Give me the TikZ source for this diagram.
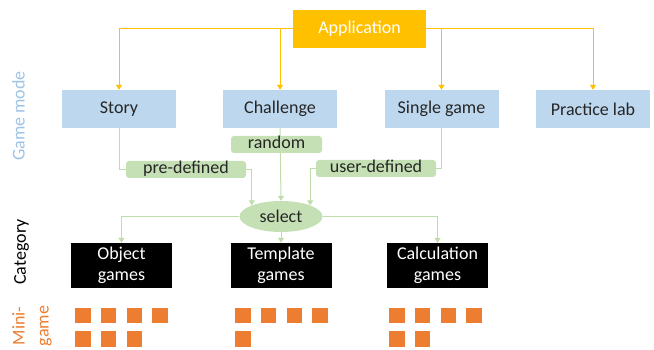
\documentclass[tikz,border=0pt]{standalone}
\usepackage{fontspec}
\setmainfont{Carlito}
\usepackage{tikz}
\usetikzlibrary{shapes.geometric}
\usetikzlibrary{arrows.meta}

\definecolor{appyellow}{HTML}{FFC000}
\definecolor{modeblue}{HTML}{BDD7EE}
\definecolor{taggreen}{HTML}{C5E0B4}
\definecolor{linegreen}{HTML}{BFDDAB}
\definecolor{gameorange}{HTML}{ED7D31}
\definecolor{titleblue}{HTML}{9DC3E6}

\begin{document}
\begin{tikzpicture}[x=1pt,y=-1pt,
       every node/.style={font=\fontsize{18}{21}\selectfont},
       modebox/.style={fill=modeblue,text=black!85,minimum width=114pt,minimum height=38pt,inner sep=0pt},
       catbox/.style={fill=black,text=white,minimum width=101pt,minimum height=45pt,inner sep=0pt,align=center},
       tagbox/.style={fill=taggreen,text=black!85,rounded corners=3pt,minimum height=17pt,inner sep=0pt,text height=12pt,text depth=4pt},
       yline/.style={draw=appyellow,line width=1pt,-{Triangle[width=6pt,length=5pt]}},
       gedge/.style={draw=linegreen,line width=1pt},
       gline/.style={gedge,-{Triangle[width=6pt,length=5pt]}},
       minigame/.style={fill=gameorange,minimum size=15.5pt,inner sep=0pt}]
       
       \useasboundingbox (0,0) rectangle (654,350);
       
       %模式
       \node[fill=appyellow,text=white,minimum width=133pt,minimum height=38pt,inner sep=0pt] (app) at (359.5,29) {Application};
       
       \node[modebox] (story) at (119,109) {Story};
       \node[modebox] (chal) at (280,109) {Challenge};
       \node[modebox] (single) at (441.5,109) {Single game};
       \node[modebox] (lab) at (593,109) {Practice lab};
       
       \draw[yline] (app.west) -| (story.north);
       \draw[yline] (app.west) -| (chal.north);
       \draw[yline] (app.east) -| (single.north);
       \draw[yline] (app.east) -| (lab.north);
       
       %选择
       \node[tagbox,minimum width=120pt] (pre) at (186,169.5) {pre-defined};
       \node[tagbox,minimum width=120pt] (user) at (376,168.5) {user-defined};
       \node[ellipse,fill=taggreen,text=black!85,minimum width=83pt,minimum height=31pt,inner sep=0pt] (sel) at (281,216.5) {select};
       
       \draw[gedge] (story.south) |- (pre.west);
       \draw[gedge] (single.south) |- (user.east);
       \draw[gline] (pre.east) -| (sel.159);
       \draw[gline] (user.west) -| (sel.21);
       \draw[gline] (chal.south) -- (sel.north);
       
       \node[tagbox,minimum width=91pt] (rand) at (276.5,144.5) {random};
       
       %类别
       \node[catbox] (obj) at (121.5,265.5) {Object\\games};
       \node[catbox] (tmpl) at (281,265.5) {Template\\games};
       \node[catbox] (calc) at (437.5,265.5) {Calculation\\games};
       
       \draw[gline] (sel.west) -| (obj.north);
       \draw[gline] (sel.south) -- (tmpl.north);
       \draw[gline] (sel.east) -| (calc.north);
       
       %小游戏
       \foreach \i in {0,1,2,3}  {
       	\node[minigame] (obj-a\i) at (83+25.7*\i,315.3) {};
       	\node[minigame] (tmpl-a\i) at (243+25.7*\i,315.3) {};
       	\node[minigame] (calc-a\i) at (397+25.7*\i,315.3) {};
       }
       \foreach \i in {0,1,2}  {
       	\node[minigame] (obj-b\i) at (83+25.7*\i,339) {};
       }
       \node[minigame] (tmpl-b0) at (243,339) {};
       \foreach \i in {0,1}  {
       	\node[minigame] (calc-b\i) at (397+25.7*\i,339) {};
       }
       
       %左侧
       \node[rotate=90,text=titleblue] (modelabel) at (18.5,116) {Game mode};
       \node[rotate=90,text=black] (catlabel) at (21.5,252) {Category};
       \node[rotate=90,text=gameorange,align=center,font=\fontsize{18}{24}\selectfont] (minilabel) at (32,326) {Mini-\\game};
       
\end{tikzpicture}
\end{document}
